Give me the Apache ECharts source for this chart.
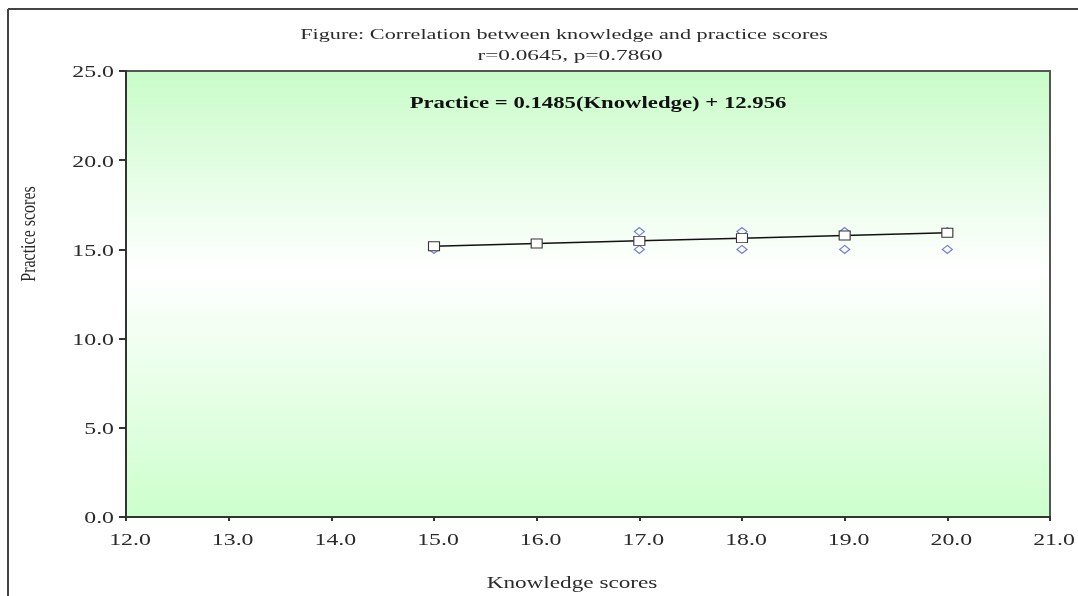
<!DOCTYPE html>
<html>
<head>
<meta charset="utf-8">
<script src="https://cdn.jsdelivr.net/npm/echarts@6/dist/echarts.min.js"></script>
<style>html,body{margin:0;padding:0;background:#fff;}#chart{width:1078px;height:596px;}</style>
</head>
<body>
<div id="chart"></div>
<script>
// Observed data (Knowledge, Practice)
var observedPoints = [
  [15, 15], [17, 16], [17, 15], [18, 16], [18, 15],
  [19, 16], [19, 15], [20, 16], [20, 15]
];
// Fitted values
var fitKnowledge = [15, 16, 17, 18, 19, 20];
var fitPractice = [15.18, 15.33, 15.48, 15.63, 15.78, 15.93];
var xTicks = [12, 13, 14, 15, 16, 17, 18, 19, 20, 21];
var yTicks = [0, 5, 10, 15, 20, 25];
var titleText = 'Figure: Correlation between knowledge and practice scores';
var subText = 'r=0.0645, p=0.7860';
var equationText = 'Practice = 0.1485(Knowledge) + 12.956';
var xName = 'Knowledge scores';
var yName = 'Practice scores';

var fitData = fitKnowledge.map(function (k, i) { return [k, fitPractice[i]]; });
var serif = '"Liberation Serif", "Times New Roman", serif';
var SX = 1.4;

function txt(text, x, y, size, opts) {
  opts = opts || {};
  return {
    type: 'text', x: x, y: y, scaleX: opts.sx || SX, scaleY: opts.sy || 1,
    rotation: opts.rot || 0, z: 10,
    style: {
      text: text, fontFamily: serif, fontSize: size,
      fontWeight: opts.bold ? 'bold' : 'normal',
      fill: opts.color || '#2a2a2a', align: opts.align || 'center', verticalAlign: 'middle'
    }
  };
}

var chart = echarts.init(document.getElementById('chart'));
var baseOption = {
  animation: false,
  backgroundColor: '#ffffff',
  grid: {
    left: 126, right: 28, top: 71, bottom: 79,
    show: true, borderColor: '#555', borderWidth: 2,
    backgroundColor: new echarts.graphic.LinearGradient(0, 0, 0, 1, [
      { offset: 0, color: '#c8fcc8' },
      { offset: 0.45, color: '#ffffff' },
      { offset: 1, color: '#ccffcc' }
    ])
  },
  xAxis: {
    type: 'value', min: xTicks[0], max: xTicks[xTicks.length - 1], interval: 1,
    axisLine: { show: true, lineStyle: { color: '#333', width: 2 } },
    axisTick: { show: true, length: 4, lineStyle: { color: '#333', width: 2 } },
    splitLine: { show: false },
    axisLabel: { show: false }
  },
  yAxis: {
    type: 'value', min: yTicks[0], max: yTicks[yTicks.length - 1], interval: 5,
    axisLine: { show: true, lineStyle: { color: '#333', width: 2 } },
    axisTick: { show: true, length: 7, lineStyle: { color: '#333', width: 2 } },
    splitLine: { show: false },
    axisLabel: { show: false }
  },
  series: [
    {
      type: 'scatter', data: observedPoints, symbol: 'diamond', symbolSize: [10, 8],
      itemStyle: { color: 'rgba(255,255,255,0)', borderColor: '#5a5ad0', borderWidth: 1.2 },
      z: 2
    },
    {
      type: 'line', data: fitData, symbol: 'rect', symbolSize: [11, 9], showSymbol: true,
      lineStyle: { color: '#111', width: 1.5 },
      itemStyle: { color: '#ffffff', borderColor: '#333', borderWidth: 1 },
      z: 3
    }
  ]
};
chart.setOption(baseOption);

var graphics = [
  { type: 'line', shape: { x1: 8, y1: 9, x2: 1078, y2: 9 }, style: { stroke: '#444', lineWidth: 2 } },
  { type: 'line', shape: { x1: 8, y1: 9, x2: 8, y2: 596 }, style: { stroke: '#444', lineWidth: 2 } },
  txt(titleText, 564, 35, 15, { sx: 1.48 }),
  txt(subText, 570, 56, 15, { sx: 1.55 }),
  txt(equationText, 598, 104, 16, { bold: true, color: '#111', sx: 1.42 }),
  txt(xName, 572, 584, 16, { sx: 1.45 }),
  txt(yName, 30, 234, 16, { rot: Math.PI / 2, sx: 1, sy: 1.3 })
];
xTicks.forEach(function (v) {
  var p = chart.convertToPixel({ gridIndex: 0 }, [v, yTicks[0]]);
  graphics.push(txt(v.toFixed(1), p[0] + 4, p[1] + 24, 17));
});
yTicks.forEach(function (v) {
  var p = chart.convertToPixel({ gridIndex: 0 }, [xTicks[0], v]);
  graphics.push(txt(v.toFixed(1), p[0] - 12, p[1] + 2, 17, { align: 'right' }));
});
chart.setOption({ graphic: graphics });
</script>
</body>
</html>
